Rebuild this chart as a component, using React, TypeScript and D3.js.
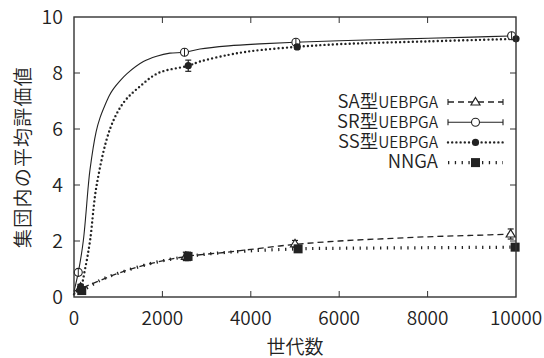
import * as d3 from 'd3';

// curve data (generation, average evaluation)
const saGen = [0, 150, 360, 600, 1040, 1800, 2550, 3460, 4000, 5000, 6000, 7000, 8000, 9000, 10000];
const saVal = [0.2, 0.3, 0.44, 0.6, 0.87, 1.22, 1.45, 1.6, 1.7, 1.88, 2.0, 2.08, 2.15, 2.2, 2.25];

const srGen = [0, 97, 210, 325, 362, 500, 588, 700, 800, 900, 1040, 1200, 1570, 1870, 2170, 2500, 2850, 3500, 4200, 5000, 6000, 7500, 9000, 10000];
const srVal = [0.2, 0.88, 2.0, 4.0, 4.55, 5.9, 6.4, 6.85, 7.2, 7.45, 7.72, 7.98, 8.41, 8.6, 8.71, 8.74, 8.86, 8.97, 9.04, 9.1, 9.15, 9.22, 9.28, 9.33];

const ssGen = [0, 150, 250, 362, 513, 815, 1115, 1490, 1910, 2585, 2850, 3500, 4000, 5000, 6000, 8000, 10000];
const ssVal = [0.1, 0.35, 1.0, 2.0, 4.0, 6.0, 6.93, 7.52, 8.0, 8.26, 8.41, 8.65, 8.78, 8.93, 9.03, 9.13, 9.22];

const nnGen = [0, 175, 600, 1040, 1800, 2580, 3500, 5070, 6000, 8000, 10000];
const nnVal = [0.15, 0.23, 0.6, 0.87, 1.22, 1.45, 1.6, 1.72, 1.74, 1.76, 1.78];

// marker points with error bars
const saPtGen = [150, 2530, 5000, 9880];
const saPtVal = [0.35, 1.45, 1.9, 2.25];
const saPtErr = [0.1, 0.15, 0.12, 0.18];

const srPtGen = [97, 2500, 5020, 9900];
const srPtVal = [0.88, 8.74, 9.1, 9.33];
const srPtErr = [0.1, 0.05, 0.05, 0.05];

const ssPtGen = [150, 2585, 5050, 10000];
const ssPtVal = [0.35, 8.26, 8.93, 9.22];
const ssPtErr = [0.1, 0.2, 0.08, 0.06];

const nnPtGen = [175, 2580, 5070, 9980];
const nnPtVal = [0.23, 1.45, 1.72, 1.78];
const nnPtErr = [0.1, 0.15, 0.08, 0.06];

const xTicks = [0, 2000, 4000, 6000, 8000, 10000];
const yTicks = [0, 2, 4, 6, 8, 10];

const W = 544;
const H = 358;
const m = { left: 74, right: 28, top: 17, bottom: 61 };
const font = "'Noto Sans CJK JP', 'Noto Sans', sans-serif";
const ink = '#222';
const txt = '#222';

const x = d3.scaleLinear().domain([0, 10000]).range([m.left, W - m.right]);
const y = d3.scaleLinear().domain([0, 10]).range([H - m.bottom, m.top]);

const zip = (g: number[], v: number[]) => g.map((d, i) => [d, v[i]] as [number, number]);
const line = d3.line<[number, number]>().x(d => x(d[0])).y(d => y(d[1])).curve(d3.curveCatmullRom.alpha(0.5));

type Marker = 'tri' | 'circle' | 'dot' | 'square';

function Mark({ kind, cx, cy }: { kind: Marker; cx: number; cy: number }) {
  if (kind === 'tri') {
    return <path d={`M${cx},${cy - 4.5}L${cx + 4.5},${cy + 3}L${cx - 4.5},${cy + 3}Z`} fill="#fff" stroke={ink} strokeWidth={1.2} />;
  }
  if (kind === 'circle') {
    return <circle cx={cx} cy={cy} r={4} fill="#fff" stroke={ink} strokeWidth={1.1} />;
  }
  if (kind === 'dot') {
    return <circle cx={cx} cy={cy} r={3.6} fill={ink} />;
  }
  return <rect x={cx - 4.5} y={cy - 4.5} width={9} height={9} fill={ink} />;
}

function Points({ gen, val, err, kind }: { gen: number[]; val: number[]; err: number[]; kind: Marker }) {
  return (
    <g>
      {gen.map((g, i) => {
        const cx = x(g);
        const y0 = y(val[i] - err[i]);
        const y1 = y(val[i] + err[i]);
        return (
          <g key={i}>
            <line x1={cx} x2={cx} y1={y0} y2={y1} stroke={ink} strokeWidth={1.2} />
            <line x1={cx - 3} x2={cx + 3} y1={y0} y2={y0} stroke={ink} strokeWidth={1.2} />
            <line x1={cx - 3} x2={cx + 3} y1={y1} y2={y1} stroke={ink} strokeWidth={1.2} />
            <Mark kind={kind} cx={cx} cy={y(val[i])} />
            {kind === 'circle' && (
              <line x1={cx} x2={cx} y1={y(val[i]) - 4} y2={y(val[i]) + 4} stroke={ink} strokeWidth={1} />
            )}
          </g>
        );
      })}
    </g>
  );
}

const styles = {
  sa: { strokeWidth: 1.3, strokeDasharray: '6 4', strokeLinecap: 'butt' as const },
  sr: { strokeWidth: 1.1 },
  ss: { strokeWidth: 2.4, strokeDasharray: '0 4.2', strokeLinecap: 'round' as const },
  nn: { strokeWidth: 3.2, strokeDasharray: '1.3 5.5', strokeLinecap: 'butt' as const },
};

const legendRows = [
  { main: 'SA型', sub: 'UEBPGA', style: styles.sa, kind: 'tri' as Marker, caps: true },
  { main: 'SR型', sub: 'UEBPGA', style: styles.sr, kind: 'circle' as Marker, caps: true },
  { main: 'SS型', sub: 'UEBPGA', style: styles.ss, kind: 'dot' as Marker, caps: false },
  { main: 'NNGA', sub: '', style: styles.nn, kind: 'square' as Marker, caps: false },
];

export default function App() {
  const x0 = m.left;
  const x1 = W - m.right;
  const y0 = H - m.bottom;
  const y1 = m.top;
  return (
    <div style={{ position: 'absolute', left: 0, top: 0 }}>
      <svg width={W} height={H} style={{ display: 'block', background: '#fff' }} fontFamily={font} fontWeight={350}>
        {/* curves */}
        <path d={line(zip(saGen, saVal)) || ''} fill="none" stroke={ink} {...styles.sa} />
        <path d={line(zip(srGen, srVal)) || ''} fill="none" stroke={ink} {...styles.sr} />
        <path d={line(zip(ssGen, ssVal)) || ''} fill="none" stroke={ink} {...styles.ss} />
        <path d={line(zip(nnGen, nnVal)) || ''} fill="none" stroke={ink} {...styles.nn} />

        <Points gen={saPtGen} val={saPtVal} err={saPtErr} kind="tri" />
        <Points gen={srPtGen} val={srPtVal} err={srPtErr} kind="circle" />
        <Points gen={ssPtGen} val={ssPtVal} err={ssPtErr} kind="dot" />
        <Points gen={nnPtGen} val={nnPtVal} err={nnPtErr} kind="square" />

        {/* frame and inward ticks */}
        <rect x={x0} y={y1} width={x1 - x0} height={y0 - y1} fill="none" stroke="#333" strokeWidth={1.4} />
        {xTicks.slice(1, -1).map(t => (
          <g key={'x' + t}>
            <line x1={x(t)} x2={x(t)} y1={y0} y2={y0 - 6} stroke="#333" strokeWidth={1} />
            <line x1={x(t)} x2={x(t)} y1={y1} y2={y1 + 6} stroke="#333" strokeWidth={1} />
          </g>
        ))}
        {yTicks.slice(1, -1).map(t => (
          <g key={'y' + t}>
            <line x1={x0} x2={x0 + 6} y1={y(t)} y2={y(t)} stroke="#333" strokeWidth={1} />
            <line x1={x1} x2={x1 - 6} y1={y(t)} y2={y(t)} stroke="#333" strokeWidth={1} />
          </g>
        ))}

        {/* tick labels */}
        {xTicks.map(t => (
          <text key={'xl' + t} x={x(t)} y={y0 + 28} textAnchor="middle" fontSize={19} fill={txt}>{t}</text>
        ))}
        {yTicks.map(t => (
          <text key={'yl' + t} x={x0 - 11} y={y(t)} dy="0.36em" textAnchor="end" fontSize={19.5} fill={txt}>{t}</text>
        ))}

        {/* axis titles */}
        <text x={(x0 + x1) / 2} y={H - 4} textAnchor="middle" fontSize={19} fill={txt}>世代数</text>
        <text transform={`translate(30,${(y0 + y1) / 2}) rotate(-90)`} textAnchor="middle" fontSize={19} letterSpacing={1.2} fill={txt}>集団内の平均評価値</text>

        {/* legend */}
        {legendRows.map((r, i) => {
          const cy = 102 + i * 20.2;
          const lx0 = 448;
          const lx1 = 503;
          const mx = (lx0 + lx1) / 2;
          return (
            <g key={i}>
              <text x={438} y={cy} dy="0.36em" textAnchor="end" fill={txt}>
                <tspan fontSize={18.5}>{r.main}</tspan>
                {r.sub && <tspan fontSize={15.5}>{r.sub}</tspan>}
              </text>
              <line x1={lx0} x2={lx1} y1={cy} y2={cy} stroke={ink} {...r.style} />
              {r.caps && (
                <g>
                  <line x1={lx0} x2={lx0} y1={cy - 3} y2={cy + 3} stroke={ink} strokeWidth={1.1} />
                  <line x1={lx1} x2={lx1} y1={cy - 3} y2={cy + 3} stroke={ink} strokeWidth={1.1} />
                </g>
              )}
              <Mark kind={r.kind} cx={mx} cy={cy} />
            </g>
          );
        })}
      </svg>
    </div>
  );
}
